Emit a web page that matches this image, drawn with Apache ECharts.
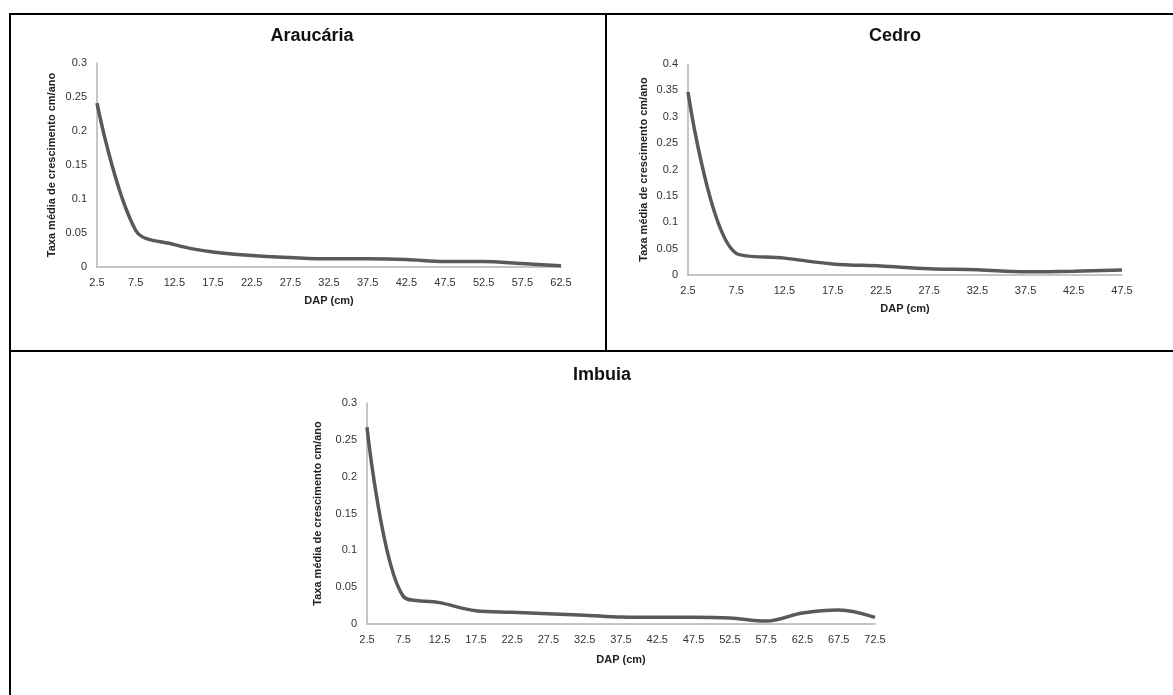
<!DOCTYPE html>
<html>
<head>
<meta charset="utf-8">
<script src="https://cdn.jsdelivr.net/npm/echarts@6/dist/echarts.min.js"></script>
<style>
  html, body { margin: 0; padding: 0; background: #fff; }
  #wrap { position: relative; width: 1173px; height: 695px; overflow: hidden; }
  #chart { position: absolute; left: 0; top: 0; width: 1173px; height: 695px; }
  .ln { position: absolute; background: #000; }
</style>
</head>
<body>
<div id="wrap">
  <div id="chart"></div>
  <div class="ln" style="left:9px;top:13px;width:1164px;height:2px"></div>
  <div class="ln" style="left:9px;top:13px;width:2px;height:682px"></div>
  <div class="ln" style="left:9px;top:350px;width:1164px;height:2px"></div>
  <div class="ln" style="left:605px;top:13px;width:2px;height:339px"></div>
</div>
<script>
// DAP classes (cm)
const dapAraucaria = ['2.5','7.5','12.5','17.5','22.5','27.5','32.5','37.5','42.5','47.5','52.5','57.5','62.5']
const taxaAraucaria = [0.241, 0.054, 0.033, 0.022, 0.017, 0.014, 0.012, 0.012, 0.011, 0.008, 0.008, 0.005, 0.002]

const dapCedro = ['2.5','7.5','12.5','17.5','22.5','27.5','32.5','37.5','42.5','47.5']
const taxaCedro = [0.347, 0.041, 0.032, 0.021, 0.017, 0.012, 0.010, 0.006, 0.007, 0.0095]

const dapImbuia = ['2.5','7.5','12.5','17.5','22.5','27.5','32.5','37.5','42.5','47.5','52.5','57.5','62.5','67.5','72.5']
const taxaImbuia = [0.267, 0.0375, 0.029, 0.018, 0.016, 0.014, 0.012, 0.0095, 0.009, 0.009, 0.008, 0.004, 0.015, 0.019, 0.009]

const yName = 'Taxa média de crescimento cm/ano'
const xName = 'DAP (cm)'
const font = 'Liberation Sans, Arial, sans-serif'
const lineColor = '#595959'

function xAxis(i, cats, gap) {
  return {
    type: 'category', gridIndex: i, data: cats, boundaryGap: false,
    name: xName, nameLocation: 'middle', nameGap: gap,
    nameTextStyle: { fontFamily: font, fontWeight: 'bold', fontSize: 11, color: '#222' },
    axisLine: { lineStyle: { color: '#b3b3b3', width: 1.5 } },
    axisTick: { show: false },
    axisLabel: { fontFamily: font, fontSize: 11, color: '#333', margin: 10, interval: 0 },
    splitLine: { show: false },
  }
}

function yAxis(i, max, gap) {
  return {
    type: 'value', gridIndex: i, min: 0, max: max, interval: 0.05,
    name: yName, nameLocation: 'middle', nameGap: gap, nameRotate: 90,
    nameTextStyle: { fontFamily: font, fontWeight: 'bold', fontSize: 11, color: '#222' },
    axisLine: { show: true, lineStyle: { color: '#b3b3b3', width: 1.5 } },
    axisTick: { show: false },
    axisLabel: { fontFamily: font, fontSize: 11, color: '#333', margin: 10 },
    splitLine: { show: false },
  }
}

function line(i, data) {
  return {
    type: 'line', xAxisIndex: i, yAxisIndex: i, data: data,
    smooth: 0.35, symbol: 'none',
    lineStyle: { color: lineColor, width: 3.5 },
  }
}

const titleStyle = { fontFamily: font, fontWeight: 'bold', fontSize: 18, color: '#111' }

const chart = echarts.init(document.getElementById('chart'))
chart.setOption({
  animation: false,
  title: [
    { text: 'Araucária', left: 307, top: 22, textAlign: 'center', textStyle: titleStyle },
    { text: 'Cedro', left: 890, top: 22, textAlign: 'center', textStyle: titleStyle },
    { text: 'Imbuia', left: 597, top: 361, textAlign: 'center', textStyle: titleStyle },
  ],
  grid: [
    { left: 97, top: 63, width: 464, height: 204 },
    { left: 688, top: 64, width: 434, height: 211 },
    { left: 367, top: 403, width: 508, height: 221 },
  ],
  xAxis: [
    xAxis(0, dapAraucaria, 28),
    xAxis(1, dapCedro, 28),
    xAxis(2, dapImbuia, 30),
  ],
  yAxis: [
    yAxis(0, 0.3, 40),
    yAxis(1, 0.4, 39),
    yAxis(2, 0.3, 44),
  ],
  series: [
    line(0, taxaAraucaria),
    line(1, taxaCedro),
    line(2, taxaImbuia),
  ],
})
</script>
</body>
</html>
